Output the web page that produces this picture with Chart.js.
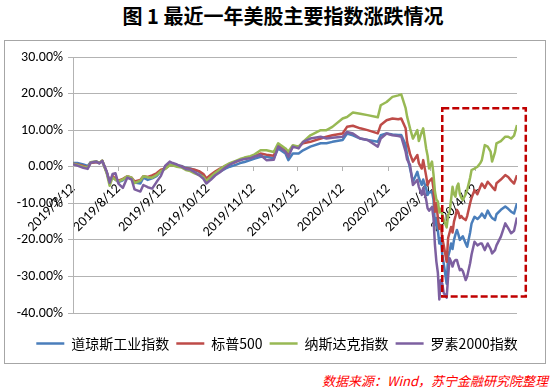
<!DOCTYPE html>
<html lang="zh">
<head>
<meta charset="UTF-8">
<title>最近一年美股主要指数涨跌情况</title>
<style>
  html, body { margin: 0; padding: 0; background: #fff; }
  body { width: 550px; height: 392px; position: relative; overflow: hidden; font-family: "Noto Sans CJK SC", sans-serif; }
  h1 { position: absolute; left: 0; width: 566px; top: 0; margin: 0; text-align: center; font-size: 20px; line-height: 32px; font-weight: bold; color: #000; }
  .frame { position: absolute; left: 4px; top: 40px; width: 540px; height: 322px; border: 1px solid #a6a6a6; }
  .source { position: absolute; right: 2px; top: 372px; line-height: 18px; color: #f00; font-style: italic; font-size: 13px; }
</style>
</head>
<body>
<h1>图 1 最近一年美股主要指数涨跌情况</h1>
<div class="frame"><canvas id="chart"></canvas></div>
<div class="source">数据来源：Wind，苏宁金融研究院整理</div>

<script src="https://cdn.jsdelivr.net/npm/chart.js@4.4.1/dist/chart.umd.min.js"></script>
<script>
// calendar days since 2019/7/12
const days = [0,3,7,10,12,16,18,20,23,25,27,29,31,34,37,40,42,46,48,51,54,57,60,63,66,68,71,74,77,80,
  83,86,89,91,94,97,100,104,107,111,114,117,121,124,128,132,137,140,145,147,150,154,157,162,169,173,177,184,187,191,
  196,201,208,210,214,218,222,224,227,228,230,232,235,236,238,239,241,242,243,245,246,247,248,249,250,251,252,253,255,256,
  257,258,259,260,261,262,263,264,265,266,268,269,271,272,274,276,278,279,281,283,285,286,288,289,292,295,297,299,301,303];

// percent change vs 2019/7/12
const dow = [1.0,1.0,0.6,0.2,1.2,1.3,1.0,1.5,-1.5,-4.0,-2.8,-3.5,-4.2,-3.7,-2.8,-3.3,-4.3,-4.6,-3.0,-3.6,-3.2,-2.6,-1.2,-0.4,0.6,0.5,0.3,0.2,-0.3,-0.5,
  -0.9,-1.4,-2.5,-4.0,-2.8,-2.0,-1.4,-0.5,0.0,0.5,1.0,1.3,1.8,2.2,2.7,2.7,2.3,5.0,3.6,1.8,3.6,3.6,4.5,5.5,6.4,6.4,6.8,7.3,9.1,8.6,
  7.7,7.3,6.8,8.6,9.1,8.8,8.7,8.7,6.0,3.2,-0.5,-4.1,-1.4,-3.0,-5.0,-3.5,-6.0,-7.7,-7.0,-6.8,-9.0,-16.0,-14.0,-17.5,-21.0,-19.5,-24.0,-26.5,-32.0,-24.5,
  -23.0,-21.0,-22.5,-20.0,-18.5,-17.3,-18.5,-20.0,-19.5,-19.0,-21.0,-21.9,-18.0,-15.5,-13.7,-14.3,-13.5,-12.8,-14.0,-12.0,-13.5,-14.0,-14.6,-13.0,-11.8,-10.9,-11.5,-12.3,-12.8,-10.0];
const sp500 = [0.8,0.6,0.2,-0.2,1.0,1.3,1.0,1.6,-1.5,-4.2,-2.5,-3.3,-3.8,-3.3,-2.6,-3.0,-4.0,-3.6,-2.6,-2.8,-2.4,-1.8,-0.8,-0.5,0.5,0.4,0.3,0.1,-0.5,-0.6,
  -0.8,-1.2,-2.0,-3.2,-2.2,-1.3,-0.6,0.2,0.8,1.3,1.8,2.3,2.5,2.9,3.6,3.3,3.0,5.8,4.6,3.5,5.5,5.5,6.4,6.8,7.7,8.2,8.6,9.1,10.9,11.2,
  10.5,10.0,9.1,11.4,12.7,13.2,13.0,13.2,10.5,6.8,3.5,1.4,3.2,1.0,-0.5,1.8,-2.5,-5.0,-4.0,-3.2,-6.0,-12.3,-10.0,-14.0,-17.0,-16.0,-19.5,-21.5,-26.0,-19.5,
  -18.0,-16.5,-18.0,-15.0,-13.5,-11.8,-12.5,-14.0,-13.5,-14.0,-14.6,-13.5,-10.0,-8.5,-6.4,-7.5,-5.5,-4.6,-5.8,-4.1,-5.0,-5.5,-6.4,-4.5,-3.5,-2.3,-2.8,-3.8,-4.6,-2.3];
const nasdaq = [0.8,0.5,0.0,-0.3,1.2,1.5,1.0,1.7,-1.8,-5.2,-2.9,-3.6,-4.0,-3.5,-2.6,-3.0,-4.5,-3.8,-2.6,-2.9,-3.0,-2.3,-1.2,-0.6,0.4,0.4,0.0,-0.2,-0.9,-1.2,
  -1.8,-2.3,-2.8,-3.9,-2.8,-1.7,-0.8,0.3,1.0,1.6,2.1,2.5,2.9,3.4,4.5,4.5,4.0,6.4,5.0,4.1,5.9,5.5,6.8,8.6,10.0,10.0,10.9,13.2,13.6,14.8,
  14.5,14.1,13.5,16.8,17.7,19.1,19.5,19.8,16.0,13.7,10.5,7.7,10.0,7.0,9.5,10.5,5.0,3.0,-0.5,1.4,-2.0,-6.8,-9.0,-9.5,-12.5,-11.5,-13.0,-14.5,-16.6,-13.2,
  -12.5,-9.0,-5.5,-7.5,-8.2,-5.5,-4.6,-7.5,-8.5,-9.1,-7.5,-6.4,-3.0,-0.9,-0.5,0.0,1.0,1.8,5.9,5.5,4.1,1.4,4.0,6.4,7.0,8.2,8.2,7.7,8.5,11.4];
const russell = [0.7,0.3,-0.3,-0.6,1.1,1.4,0.9,1.6,-1.3,-4.4,-2.0,-1.8,-4.6,-5.8,-3.0,-3.5,-6.2,-6.8,-5.0,-5.6,-6.0,-4.2,-2.5,0.3,1.4,1.0,0.6,0.0,-0.6,-0.8,
  -1.5,-2.3,-3.3,-4.6,-3.6,-2.4,-1.6,-0.2,0.6,1.4,1.8,2.1,2.3,2.8,3.2,1.8,1.9,5.5,4.1,2.7,5.5,5.0,6.8,7.7,8.2,7.7,7.9,8.2,9.5,9.1,
  7.7,7.3,5.5,7.7,9.1,8.6,8.4,8.2,4.1,2.0,0.5,-5.0,-3.6,-5.5,-7.7,-5.8,-9.0,-11.4,-12.0,-11.0,-14.0,-21.4,-26.0,-29.0,-36.3,-31.0,-32.0,-34.5,-35.8,-30.0,
  -25.0,-26.0,-27.3,-26.0,-25.5,-25.5,-27.0,-28.3,-28.0,-28.5,-31.0,-30.0,-26.4,-24.0,-20.5,-21.5,-21.0,-21.0,-22.8,-21.0,-22.5,-23.7,-22.8,-21.5,-19.1,-15.5,-16.8,-18.2,-17.5,-13.9];

const seriesNames = ['道琼斯工业指数', '标普500', '纳斯达克指数', '罗素2000指数'];
const tickLabels = ['2019/7/12','2019/8/12','2019/9/12','2019/10/12','2019/11/12','2019/12/12','2020/1/12','2020/2/12','2020/3/12','2020/4/12'];
const yTicks = [-40, -30, -20, -10, 0, 10, 20, 30];
const lastDay = 303;

// dashed highlight box: days and percent range
const focusDays = [252, 309];
const focusRange = [16, -35.5];

const start = Date.UTC(2019, 6, 12);
const tickDays = tickLabels.map(s => {
  const [yy, mm, dd] = s.split('/').map(Number);
  return Math.round((Date.UTC(yy, mm - 1, dd) - start) / 86400000);
});

const axisFont = { family: 'Calibri, Carlito, Lato, sans-serif', size: 14 };
const gridColor = '#b3b3b3';

function series(vals) {
  return vals.map((v, i) => ({ x: days[i], y: v }));
}

const focusBox = {
  id: 'focusBox',
  afterDatasetsDraw(chart) {
    const { ctx, scales: { x, y } } = chart;
    const l = x.getPixelForValue(focusDays[0]);
    const r = x.getPixelForValue(focusDays[1]);
    const t = y.getPixelForValue(focusRange[0]);
    const b = y.getPixelForValue(focusRange[1]);
    ctx.save();
    ctx.strokeStyle = '#c00000';
    ctx.lineWidth = 2.5;
    ctx.setLineDash([7, 3]);
    ctx.strokeRect(l, t, r - l, b - t);
    ctx.restore();
  }
};

const colors = ['#4a7ebb', '#be4b48', '#98b954', '#7d60a0'];
const values = [dow, sp500, nasdaq, russell];

new Chart(document.getElementById('chart'), {
  type: 'line',
  data: {
    datasets: values.map((v, i) => ({
      label: seriesNames[i],
      data: series(v),
      borderColor: colors[i],
      backgroundColor: colors[i],
      borderWidth: 2.5,
      borderJoinStyle: 'round',
      pointRadius: 0,
      tension: 0,
      order: 3 - i
    }))
  },
  options: {
    responsive: true,
    maintainAspectRatio: false,
    animation: false,
    events: [],
    layout: { padding: { left: 4, right: 0, top: 16, bottom: 2.4 } },
    scales: {
      x: {
        type: 'linear',
        position: { y: 0 },
        min: 0,
        max: lastDay,
        afterBuildTicks: s => { s.ticks = tickDays.map(v => ({ value: v })); },
        ticks: {
          autoSkip: false,
          minRotation: 45,
          maxRotation: 45,
          padding: 10,
          color: '#000',
          font: axisFont,
          callback: (v, i) => tickLabels[i]
        },
        grid: { drawOnChartArea: false, drawTicks: true, tickLength: 4, color: gridColor },
        border: { color: gridColor }
      },
      y: {
        min: -40,
        max: 30,
        afterBuildTicks: s => { s.ticks = yTicks.map(v => ({ value: v })); },
        afterFit: s => { s.width = 64; },
        ticks: {
          padding: 5,
          color: '#000',
          font: axisFont,
          callback: v => v.toFixed(2) + '%'
        },
        grid: { color: gridColor, tickLength: 5 },
        border: { color: gridColor }
      },
      // empty right gutter so the plot stops short of the frame
      gutter: {
        axis: 'y',
        position: 'right',
        afterFit: s => { s.width = 28; },
        ticks: { display: false },
        grid: { display: false },
        border: { display: false }
      }
    },
    plugins: {
      legend: {
        position: 'bottom',
        title: { display: true, text: '', padding: 3.5, font: { size: 8 } },
        labels: {
          usePointStyle: true,
          pointStyle: 'line',
          pointStyleWidth: 28,
          padding: 7,
          color: '#000',
          font: { family: '"Noto Sans CJK SC", sans-serif', size: 14 },
          sort: (a, b) => a.datasetIndex - b.datasetIndex
        }
      },
      tooltip: { enabled: false }
    }
  },
  plugins: [focusBox]
});
</script>
</body>
</html>
